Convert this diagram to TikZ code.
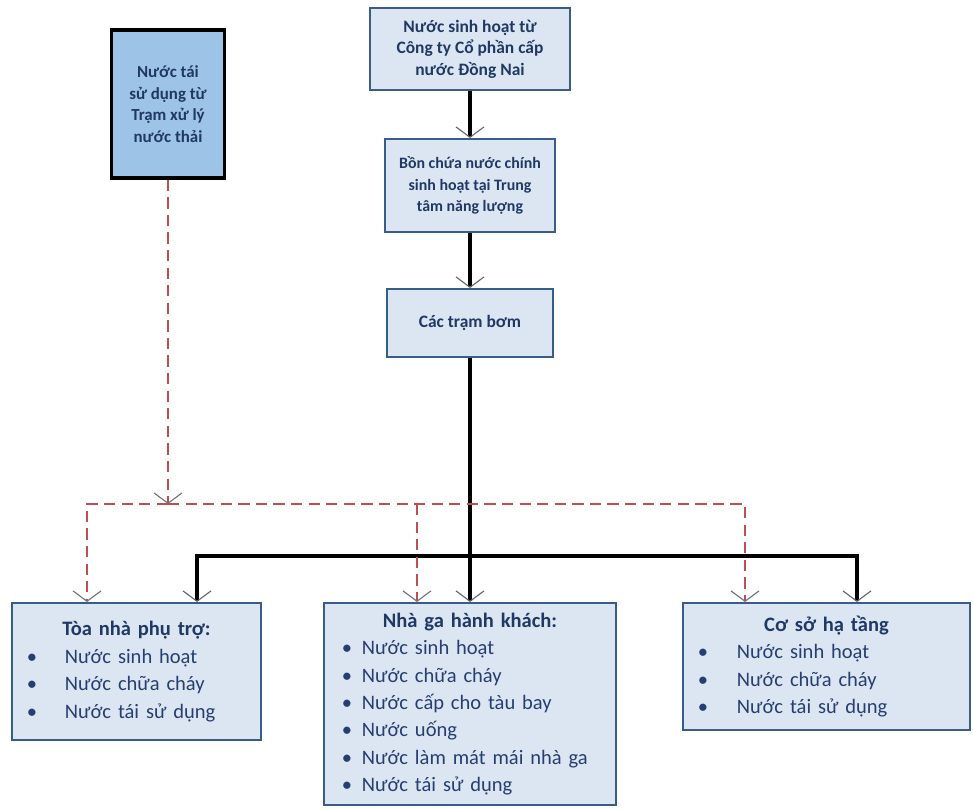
\documentclass[tikz,border=0pt]{standalone}
\usepackage{fontspec}
\setmainfont{Carlito}
\usetikzlibrary{arrows.meta, positioning}
\definecolor{boxfill}{RGB}{220,230,242}
\definecolor{boxline}{RGB}{56,93,138}
\definecolor{reusefill}{RGB}{157,195,230}
\definecolor{navytext}{RGB}{31,56,100}
\definecolor{listtext}{RGB}{38,62,112}
\definecolor{dashred}{RGB}{190,78,82}
\newlength{\bulin}
\newlength{\bulsep}
\newcommand{\witem}[1]{\par\noindent\hspace*{\bulin}\makebox[\bulsep][l]{•}#1}
\tikzset{
  box/.style    = {draw=boxline, line width=1.4pt, fill=boxfill, align=center,
                   text=navytext, font=\fontsize{12.4}{15.4}\selectfont\bfseries, inner sep=0pt},
  rbox/.style   = {draw=black, line width=2.4pt, fill=reusefill, align=center,
                   text=navytext, font=\fontsize{12}{15.4}\selectfont\bfseries, inner sep=0pt},
  lbox/.style 2 args = {draw=boxline, line width=1.4pt, fill=boxfill, align=left,
                   text=listtext, font=\fontsize{14.6}{19.5}\selectfont, inner sep=0pt,
                   execute at begin node={\setlength{\bulin}{#1}\setlength{\bulsep}{#2}}},
  arrow/.style  = {-{Straight Barb[length=2.6mm, width=7mm, line width=0.8pt, color=black!60]},
                   line width=2.6pt, black},
  darrow/.style = {-{Straight Barb[length=2.6mm, width=7mm, line width=0.8pt, color=black!55]},
                   line width=1.8pt, dashred, dash pattern=on 8pt off 4.5pt},
}
\begin{document}
\begin{tikzpicture}[x=0.025cm, y=-0.025cm]
  \useasboundingbox (0,0) rectangle (973,809);
  \node[rbox, minimum width=2.825cm, minimum height=3.7cm] (reuse) at (168,104)
    {Nước tái\\sử dụng từ\\Trạm xử lý\\nước thải};
  \node[box, minimum width=5cm, minimum height=2.05cm] (nuoc) at (470,49)
    {Nước sinh hoạt từ\\Công ty Cổ phần cấp\\nước Đồng Nai};
  \node[box, font=\fontsize{11.3}{15.2}\selectfont\bfseries,
        minimum width=4.25cm, minimum height=2.325cm, below=1.175cm of nuoc] (bon)
    {Bồn chứa nước chính\\sinh hoạt tại Trung\\tâm năng lượng};
  \node[box, minimum width=4.125cm, minimum height=1.7cm, below=1.375cm of bon] (tram)
    {Các trạm bơm};
  \node[lbox={0.375cm}{0.95cm}, text width=6.225cm, minimum height=3.425cm] (toa) at (136.5,671.5)
    {{\centering\bfseries\color{navytext}Tòa nhà phụ trợ:\par}
     \witem{Nước sinh hoạt}\witem{Nước chữa cháy}\witem{Nước tái sử dụng}};
  \node[lbox={0.45cm}{0.5cm}, text width=7.3cm, minimum height=5.05cm] (nhaga) at (470,704)
    {{\centering\bfseries\color{navytext}Nhà ga hành khách:\par}
     \witem{Nước sinh hoạt}\witem{Nước chữa cháy}\witem{Nước cấp cho tàu bay}
     \witem{Nước uống}\witem{Nước làm mát mái nhà ga}\witem{Nước tái sử dụng}};
  \node[lbox={0.375cm}{0.975cm}, text width=7.175cm, minimum height=3.175cm] (coso) at (826.5,666.5)
    {{\centering\bfseries\color{navytext}Cơ sở hạ tầng\par}
     \witem{Nước sinh hoạt}\witem{Nước chữa cháy}\witem{Nước tái sử dụng}};

  \coordinate (bus) at (470,556);
  \coordinate (busl) at (197,556);
  \coordinate (busr) at (857,556);
  \coordinate (rj) at (168,504);
  \coordinate (dl) at (87,504);
  \coordinate (dm) at (417,504);
  \coordinate (dr) at (745,504);

  \draw[arrow] (nuoc) -- (bon);
  \draw[arrow] (bon) -- (tram);
  \draw[arrow] (tram) -- (nhaga);
  \draw[arrow] (bus) -| (busl |- toa.north);
  \draw[arrow] (bus) -| (busr |- coso.north);

  \draw[darrow] (reuse) -- (rj);
  \draw[darrow] (rj) -| (dl |- toa.north);
  \draw[darrow] (rj) -| (dr |- coso.north);
  \draw[darrow] (dm) -- (dm |- nhaga.north);
\end{tikzpicture}
\end{document}
